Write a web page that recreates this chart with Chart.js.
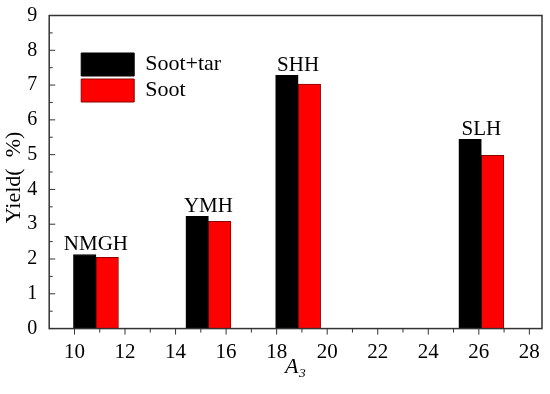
<!DOCTYPE html>
<html lang="en">
<head>
  <meta charset="UTF-8">
  <title>Yield vs A3</title>
  <script src="https://cdn.jsdelivr.net/npm/chart.js"></script>
  <style>
    html, body {
      margin: 0;
      background-color: #fff;
    }
    canvas { display: block; }
  </style>
</head>
<body>

<canvas id="yieldChart" width="550" height="394"></canvas>

<script>

// A3 position of each sample group and the sample names
const xPositions  = [10.85, 15.3, 18.85, 26.1];
const sampleNames = ['NMGH', 'YMH', 'SHH', 'SLH'];

// yield (%)
const sootTar = [2.13, 3.23, 7.28, 5.44];
const soot    = [2.05, 3.08, 7.03, 4.98];

const serif = "'Liberation Serif', 'Times New Roman', serif";
const axisColor = '#333';

Chart.defaults.font.family = serif;
Chart.defaults.color = '#000';

// frame, ticks, sample names above the bars
const decorations = {
  id: 'decorations',
  afterLayout(chart) {
    // legend sits inside the plot, top left
    const a = chart.chartArea;
    chart.legend.left = a.left + 29;
    chart.legend.top = a.top + 34.5;
  },
  afterDraw(chart) {
    const { ctx, chartArea: a, scales: { x, y } } = chart;
    ctx.save();
    ctx.strokeStyle = axisColor;
    ctx.lineWidth = 1;

    // y ticks point inward
    for (let v = 0; v <= 9; v += 0.5) {
      const py = y.getPixelForValue(v);
      const len = Number.isInteger(v) ? 6 : 3.5;
      ctx.beginPath();
      ctx.moveTo(a.left, py);
      ctx.lineTo(a.left + len, py);
      ctx.stroke();
    }
    // x ticks point outward, minor at odd values
    for (let v = 10; v <= 28; v++) {
      const px = x.getPixelForValue(v);
      const len = v % 2 === 0 ? 6 : 4;
      ctx.beginPath();
      ctx.moveTo(px, a.bottom);
      ctx.lineTo(px, a.bottom + len);
      ctx.stroke();
    }

    ctx.lineWidth = 1.5;
    ctx.strokeRect(a.left, a.top, a.right - a.left, a.bottom - a.top);

    ctx.fillStyle = '#000';
    ctx.font = '21px ' + serif;
    ctx.textAlign = 'center';
    ctx.textBaseline = 'alphabetic';
    sampleNames.forEach((name, i) => {
      const px = x.getPixelForValue(xPositions[i]);
      const py = y.getPixelForValue(Math.max(sootTar[i], soot[i]));
      ctx.fillText(name, px, py - 4);
    });
    ctx.restore();
  }
};

new Chart(document.getElementById('yieldChart'), {
  type: 'bar',
  data: {
    datasets: [
      {
        label: 'Soot+tar',
        data: xPositions.map((v, i) => ({ x: v, y: sootTar[i] })),
        backgroundColor: '#000000',
        borderColor: '#000000',
        borderWidth: 1
      },
      {
        label: 'Soot',
        data: xPositions.map((v, i) => ({ x: v, y: soot[i] })),
        backgroundColor: '#ff0000',
        borderColor: '#8b0000',
        borderWidth: 1
      }
    ]
  },
  options: {
    responsive: false,
    animation: false,
    barThickness: 22.5,
    layout: { padding: { left: 0, right: 8, top: 0, bottom: 25.5 } },
    plugins: {
      legend: {
        position: 'chartArea',
        align: 'start',
        labels: {
          boxWidth: 53,
          boxHeight: 23,
          padding: 3,
          color: '#000',
          font: { family: serif, size: 22 }
        }
      },
      tooltip: { enabled: false }
    },
    scales: {
      x: {
        type: 'linear',
        min: 9,
        max: 28.5,
        offset: false,
        border: { display: false },
        // tick marks are drawn by the plugin; keep the room for them here
        grid: { offset: false, drawOnChartArea: false, tickLength: 10, tickColor: 'rgba(0,0,0,0)' },
        ticks: {
          stepSize: 2,
          includeBounds: false,
          padding: 3.5,
          color: '#000',
          font: { family: serif, size: 21, lineHeight: 0.95 }
        },
        title: {
          display: true,
          text: 'A₃',
          color: '#000',
          padding: { top: 1, bottom: 0 },
          font: { family: serif, size: 22, style: 'italic', lineHeight: 0.09 }
        }
      },
      y: {
        min: 0,
        max: 9,
        border: { display: false },
        grid: { display: false, drawTicks: false },
        ticks: {
          stepSize: 1,
          padding: 12,
          color: '#000',
          font: { family: serif, size: 20, lineHeight: 0.35 }
        },
        title: {
          display: true,
          text: 'Yield(  %)  ',
          color: '#000',
          padding: { top: 13, bottom: 0 },
          font: { family: serif, size: 22, lineHeight: 0.1 }
        }
      }
    }
  },
  plugins: [decorations]
});

</script>

</body>
</html>
